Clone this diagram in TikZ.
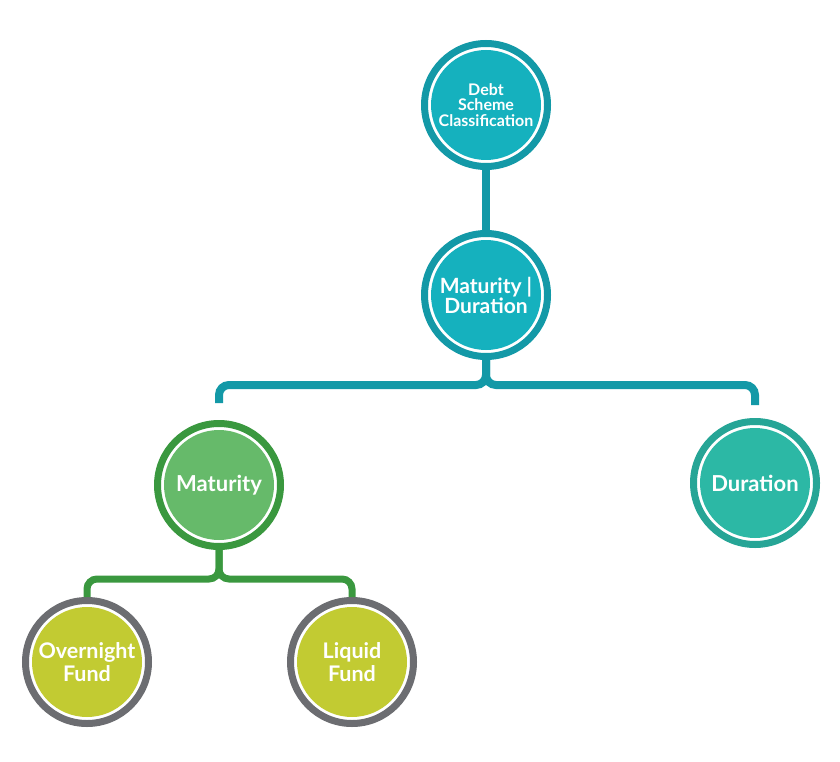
\documentclass[tikz,border=0pt]{standalone}
\usepackage{fontspec}
\setmainfont{Lato}
\usepackage{tikz}
\usetikzlibrary{positioning,calc}
\definecolor{TealRing}{HTML}{1399A7}
\definecolor{TealFill}{HTML}{15B1BE}
\definecolor{DurRing}{HTML}{26A596}
\definecolor{DurFill}{HTML}{2CB8A5}
\definecolor{MatRing}{HTML}{3A983F}
\definecolor{MatFill}{HTML}{66BA6A}
\definecolor{FundRing}{HTML}{6C6D71}
\definecolor{FundFill}{HTML}{C2CB32}
\tikzset{
  bubble/.style 2 args={circle,draw=#1,fill=white,line width=7pt,minimum size=123pt,inner sep=0pt,align=center,text=white,
    path picture={\fill[#2] (path picture bounding box.center) circle (55pt);}},
  topnode/.style={bubble={TealRing}{TealFill},font=\fontsize{16}{15.5}\selectfont\bfseries},
  tealnode/.style={bubble={TealRing}{TealFill},font=\fontsize{21}{20}\selectfont\bfseries},
  durnode/.style={bubble={DurRing}{DurFill},font=\fontsize{22}{22}\selectfont\bfseries},
  matnode/.style={bubble={MatRing}{MatFill},font=\fontsize{22}{22}\selectfont\bfseries},
  fundnode/.style={bubble={FundRing}{FundFill},font=\fontsize{21.5}{23}\selectfont\bfseries},
  tealline/.style={draw=TealRing,line width=8pt},
  greenline/.style={draw=MatRing,line width=7pt},
}
\begin{document}
\begin{tikzpicture}[x=1pt,y=-1pt]
  \useasboundingbox (0,0) rectangle (840,762);

  % Level 1: root
  \node[topnode] (root) at (486,105) {Debt\\Scheme\\Classification};
  \node[tealnode, below=60pt of root] (matdur) {Maturity |\\Duration};

  % Level 2: maturity / duration
  \node[matnode] (mat) at (219,485) {Maturity};
  \node[durnode] (dur) at (755,483) {Duration};

  % Level 3: funds
  \node[fundnode] (overnight) at (87,662) {Overnight\\Fund};
  \node[fundnode] (liquid) at (352,662) {Liquid\\Fund};

  % Split points
  \coordinate[below=25pt of matdur.south] (tsplit);
  \coordinate[below=29pt of mat.south] (gsplit);

  % Teal connectors
  \draw[tealline] (root) -- (matdur);
  \draw[tealline, rounded corners=10pt, shorten >=17pt] (matdur.south) |- (tsplit -| mat) -- (mat);
  \draw[tealline, rounded corners=10pt, shorten >=13pt] (matdur.south) |- (tsplit -| dur) -- (dur);

  % Green connectors
  \draw[greenline, rounded corners=10pt] (mat.south) |- (gsplit -| overnight) -- (overnight);
  \draw[greenline, rounded corners=10pt] (mat.south) |- (gsplit -| liquid) -- (liquid);
\end{tikzpicture}
\end{document}
